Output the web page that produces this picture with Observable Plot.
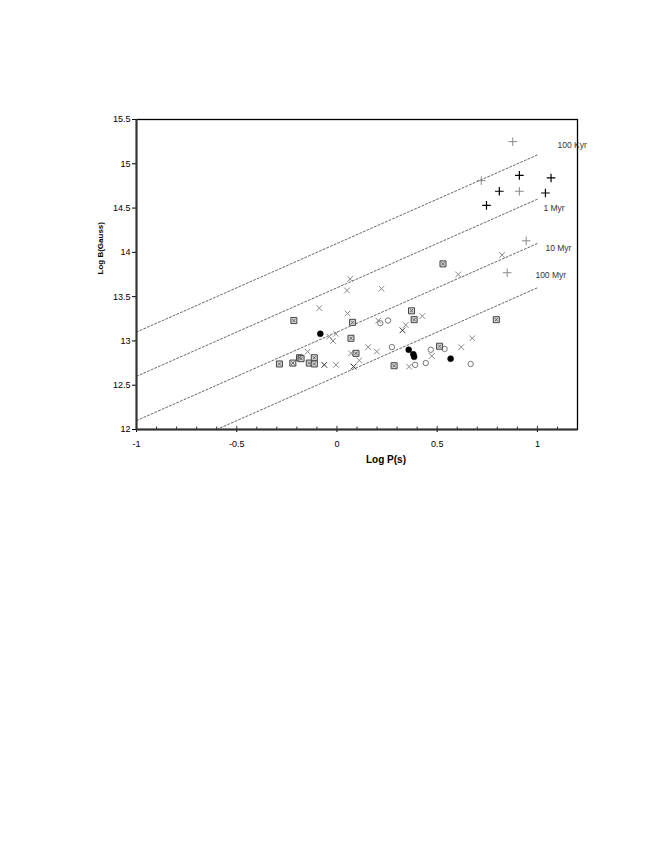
<!DOCTYPE html>
<html>
<head>
<meta charset="utf-8">
<script src="https://cdn.jsdelivr.net/npm/d3@7"></script>
<script src="https://cdn.jsdelivr.net/npm/@observablehq/plot@0.6"></script>
<style>
  html, body { margin: 0; padding: 0; background: white; }
</style>
</head>
<body>
<div id="chart"></div>
<script>
// ---- tick labels ----
const xTicks = [-1, -0.5, 0, 0.5, 1];
const xMinorTicks = [-0.9,-0.8,-0.7,-0.6,-0.4,-0.3,-0.2,-0.1,0.1,0.2,0.3,0.4,0.6,0.7,0.8,0.9,1.1];
const yTicks = [12, 12.5, 13, 13.5, 14, 14.5, 15, 15.5];

// ---- constant-age lines (log B = log P + c) ----
const ageNames      = ["100 Kyr", "1 Myr", "10 Myr", "100 Myr"];
const ageIntercepts = [14.1, 13.6, 13.1, 12.6];
const ageStartX     = [-1, -1, -1, -0.6];
const ageEndX       = [1, 1, 1, 1];
const ageLabelX     = [1.10, 1.03, 1.04, 0.99];
const ageLabelY     = [15.21, 14.5, 14.05, 13.74];

// ---- data series: [log P, log B] ----
const plusGray = [[0.877,15.25],[0.72,14.81],[0.91,14.69],[0.944,14.13],[0.849,13.77]];
const plusBlack = [[0.91,14.87],[1.068,14.84],[0.81,14.69],[1.04,14.67],[0.746,14.53]];
const crossGray = [[0.066,13.70],[0.605,13.75],[0.824,13.97],[0.05,13.57],[0.222,13.59],
  [-0.088,13.37],[0.053,13.31],[-0.038,13.05],[-0.005,13.08],[-0.02,13.0],[-0.146,12.88],
  [-0.005,12.73],[0.07,12.86],[0.156,12.93],[0.199,12.88],[0.111,12.78],[0.206,13.23],
  [0.426,13.28],[0.343,13.18],[0.675,13.03],[0.473,12.83],[0.62,12.93],[0.36,12.71]];
const crossDark = [[-0.063,12.73],[0.083,12.71],[0.327,13.12]];
const boxed = [[-0.215,13.23],[-0.287,12.74],[-0.22,12.75],[-0.187,12.81],[-0.179,12.80],
  [-0.138,12.75],[-0.113,12.81],[-0.113,12.74],[0.078,13.21],[0.07,13.03],[0.095,12.86],
  [0.372,13.34],[0.385,13.24],[0.529,13.87],[0.512,12.94],[0.285,12.72],[0.795,13.24]];
const openCircle = [[0.216,13.20],[0.255,13.23],[0.274,12.93],[0.468,12.90],[0.537,12.91],
  [0.443,12.75],[0.39,12.73],[0.667,12.74]];
const filledCircle = [[-0.083,13.08],[0.358,12.90],[0.381,12.85],[0.385,12.82],[0.567,12.80]];

// build tables
const lineRows = [];
ageNames.forEach((name, i) => {
  [ageStartX[i], ageEndX[i]].forEach(x => lineRows.push({age: name, x, y: x + ageIntercepts[i]}));
});
const labelRows = ageNames.map((name, i) => ({name, x: ageLabelX[i], y: ageLabelY[i]}));

const px = d => d[0], py = d => d[1];
const font = "'Liberation Sans', Arial, sans-serif";

const chart = Plot.plot({
  width: 654,
  height: 846,
  marginLeft: 136,
  marginRight: 77,
  marginTop: 119,
  marginBottom: 417,
  style: {fontFamily: font, fontSize: "9px", background: "white", color: "black", overflow: "visible"},
  x: {domain: [-1, 1.2], ticks: xTicks, tickFormat: d => String(d), tickSize: 3, tickPadding: 8, label: null},
  y: {domain: [12, 15.5], ticks: yTicks, tickFormat: d => String(d), tickSize: 4, tickPadding: 2, label: null},
  marks: [
    Plot.line(lineRows, {x: "x", y: "y", z: "age", stroke: "#555", strokeWidth: 0.9, strokeDasharray: "2,2"}),
    Plot.text(labelRows, {x: "x", y: "y", text: "name", textAnchor: "start", fill: "#333", fontSize: 8.5}),
    Plot.frame({stroke: "black", strokeWidth: 1.3}),
    Plot.ruleX([-1], {stroke: "#333", strokeWidth: 2}),
    Plot.ruleY([12], {stroke: "#333", strokeWidth: 2}),
    Plot.ruleX(xMinorTicks, {x: d => d, y1: 12, y2: 12.028, stroke: "#333", strokeWidth: 1}),
    Plot.ruleX(xTicks, {x: d => d, y1: 12, y2: 12.035, stroke: "#333", strokeWidth: 1}),
    // series
    Plot.dot(openCircle, {x: px, y: py, r: 2.7, stroke: "#777", fill: "white", strokeWidth: 1}),
    Plot.dot(crossGray, {x: px, y: py, symbol: "times", r: 2.7, stroke: "#888", strokeWidth: 1}),
    Plot.dot(crossDark, {x: px, y: py, symbol: "times", r: 2.7, stroke: "#333", strokeWidth: 1}),
    Plot.dot(boxed, {x: px, y: py, symbol: "square", r: 3.4, fill: "#d8d8d8", stroke: "#444", strokeWidth: 1}),
    Plot.dot(boxed, {x: px, y: py, symbol: "times", r: 1.6, stroke: "#555", strokeWidth: 0.9}),
    Plot.dot(filledCircle, {x: px, y: py, r: 3, fill: "black", stroke: "black", strokeWidth: 0.5}),
    Plot.dot(plusGray, {x: px, y: py, symbol: "plus", r: 2.9, stroke: "#888", strokeWidth: 1}),
    Plot.dot(plusBlack, {x: px, y: py, symbol: "plus", r: 2.9, stroke: "black", strokeWidth: 1.2}),
    // axis titles
    Plot.text(["Log B(Gauss)"], {frameAnchor: "left", dx: -36, rotate: -90, fontWeight: "bold", fontSize: 8, fill: "black"}),
    Plot.text(["Log P(s)"], {frameAnchor: "bottom", dx: 29, dy: 33, fontWeight: "bold", fontSize: 10, fill: "black"})
  ]
});
document.getElementById("chart").appendChild(chart);
</script>
</body>
</html>
